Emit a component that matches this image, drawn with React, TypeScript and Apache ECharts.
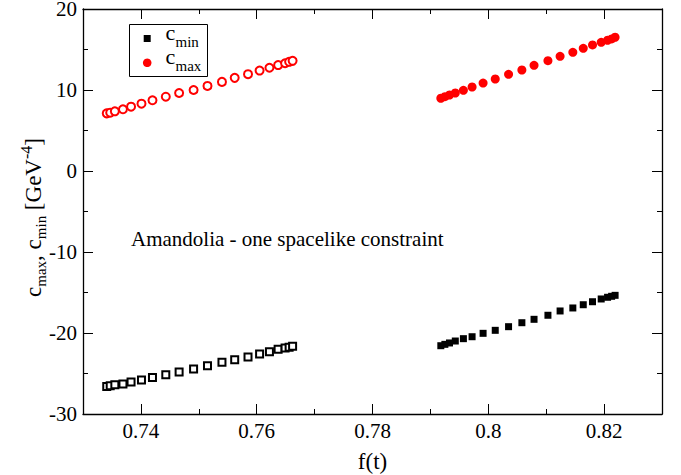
import React, { useEffect, useRef } from "react";
import * as echarts from "echarts";

// f(t) values of the two parameter scans
const fOpen = [0.7341, 0.7347, 0.7355, 0.7369, 0.7383, 0.7401, 0.742, 0.7443, 0.7466, 0.7491, 0.7515, 0.754, 0.7562, 0.7585, 0.7605, 0.7622, 0.7637, 0.7649, 0.7656, 0.7662];
const fFilled = [0.7918, 0.7925, 0.7933, 0.7943, 0.7957, 0.7972, 0.7991, 0.8012, 0.8035, 0.8058, 0.8079, 0.8103, 0.8124, 0.8146, 0.8164, 0.818, 0.8195, 0.8206, 0.8213, 0.8219];

// bounds in GeV^-4
const cMinOpen = [-26.6, -26.5, -26.4, -26.3, -26.05, -25.8, -25.5, -25.15, -24.8, -24.45, -24.05, -23.6, -23.3, -22.95, -22.6, -22.3, -22.0, -21.85, -21.75, -21.65];
const cMaxOpen = [7.12, 7.2, 7.37, 7.62, 7.94, 8.31, 8.73, 9.17, 9.63, 10.0, 10.5, 11.0, 11.5, 11.95, 12.4, 12.75, 13.08, 13.3, 13.48, 13.6];
const cMinFilled = [-21.57, -21.4, -21.23, -20.99, -20.7, -20.46, -20.04, -19.67, -19.22, -18.73, -18.31, -17.81, -17.28, -16.91, -16.51, -16.14, -15.8, -15.59, -15.47, -15.35];
const cMaxFilled = [8.98, 9.17, 9.38, 9.63, 9.96, 10.37, 10.86, 11.36, 11.94, 12.47, 13.05, 13.62, 14.16, 14.65, 15.15, 15.56, 15.89, 16.14, 16.3, 16.51];

// axis ticks
const xMajorTicks = [0.74, 0.76, 0.78, 0.8, 0.82];
const xMinorTicks = [0.75, 0.77, 0.79, 0.81];
const yTickLabels = [-30, -20, -10, 0, 10, 20];

const annotation = "Amandolia - one spacelike constraint";

const SERIF = "Liberation Serif";
const BLACK = "#000";
const RED = "#ff0000";

const zip = (xs: number[], ys: number[]) => xs.map((x, i) => [x, ys[i]]);

export default function App() {
  const ref = useRef<HTMLDivElement>(null);

  useEffect(() => {
    if (!ref.current) return;
    const chart = echarts.init(ref.current, null, { renderer: "svg" });

    const xBase = {
      type: "value",
      min: 0.73,
      max: 0.83,
      splitLine: { show: false },
    };
    const frameLine = { show: true, onZero: false, lineStyle: { color: BLACK, width: 1.3 } };
    const tickStyle = { color: BLACK, width: 1 };

    const xAxes = [
      {
        ...xBase,
        position: "bottom",
        axisLine: frameLine,
        axisTick: { inside: true, length: 10, customValues: xMajorTicks, lineStyle: tickStyle },
        axisLabel: {
          customValues: xMajorTicks,
          color: BLACK,
          fontFamily: SERIF,
          fontSize: 21,
          margin: 6,
        },
        name: "f(t)",
        nameLocation: "middle",
        nameGap: 36,
        nameMoveOverlap: false,
        nameTextStyle: { color: BLACK, fontFamily: SERIF, fontSize: 23 },
      },
      {
        ...xBase,
        position: "bottom",
        axisLine: { show: false, onZero: false },
        axisTick: { inside: true, length: 5, customValues: xMinorTicks, lineStyle: tickStyle },
        axisLabel: { show: false },
      },
      {
        ...xBase,
        position: "top",
        axisLine: frameLine,
        axisTick: { inside: true, length: 10, customValues: xMajorTicks, lineStyle: tickStyle },
        axisLabel: { show: false },
      },
      {
        ...xBase,
        position: "top",
        axisLine: { show: false, onZero: false },
        axisTick: { inside: true, length: 5, customValues: xMinorTicks, lineStyle: tickStyle },
        axisLabel: { show: false },
      },
    ];

    const yBase = {
      type: "value",
      min: yTickLabels[0],
      max: yTickLabels[yTickLabels.length - 1],
      interval: 10,
      splitLine: { show: false },
      axisLine: frameLine,
      axisTick: { inside: true, length: 10, lineStyle: tickStyle },
      minorTick: { show: true, splitNumber: 2, length: 5, lineStyle: tickStyle },
    };

    const yAxes = [
      {
        ...yBase,
        position: "left",
        axisLabel: { color: BLACK, fontFamily: SERIF, fontSize: 21, lineHeight: 17, margin: 6 },
        name: "{c|c}{s|max}{c|, c}{s|min}{c| [GeV}{p|-4}{c|]}",
        nameLocation: "middle",
        nameRotate: 90,
        nameGap: 35,
        nameMoveOverlap: false,
        nameTextStyle: {
          color: BLACK,
          fontFamily: SERIF,
          padding: [0, 12, 0, 0],
          rich: {
            c: { fontFamily: SERIF, fontSize: 23, lineHeight: 30, color: BLACK },
            s: { fontFamily: SERIF, fontSize: 15, lineHeight: 13, verticalAlign: "bottom", color: BLACK },
            p: { fontFamily: SERIF, fontSize: 16, lineHeight: 16, verticalAlign: "top", color: BLACK },
          },
        },
      },
      { ...yBase, position: "right", axisLabel: { show: false } },
    ];

    const scatter = (name: string, data: number[][], symbol: string, size: number, color: string) => ({
      name,
      type: "scatter",
      xAxisIndex: 0,
      yAxisIndex: 0,
      data,
      symbol,
      symbolSize: size,
      itemStyle: { color, borderColor: color, borderWidth: symbol.startsWith("empty") ? 1.3 : 0, opacity: 1 },
      emphasis: { disabled: true },
    });

    const txt = (text: string, size: number) => ({
      text,
      fontFamily: SERIF,
      fontSize: size,
      fill: BLACK,
      verticalAlign: "middle",
    });

    chart.setOption({
      animation: false,
      backgroundColor: "#fff",
      textStyle: { fontFamily: SERIF },
      grid: { left: 83, top: 9, right: 19, bottom: 61, containLabel: false, outerBoundsMode: "none" },
      xAxis: xAxes,
      yAxis: yAxes,
      series: [
        scatter("c_min (open)", zip(fOpen, cMinOpen), "emptyRect", 7, BLACK),
        scatter("c_max (open)", zip(fOpen, cMaxOpen), "emptyCircle", 8, RED),
        scatter("c_min", zip(fFilled, cMinFilled), "rect", 7, BLACK),
        scatter("c_max", zip(fFilled, cMaxFilled), "circle", 9, RED),
      ],
      graphic: [
        {
          type: "group",
          left: 129,
          top: 21,
          children: [
            { type: "rect", shape: { x: 0, y: 0, width: 78, height: 52 }, style: { fill: "#fff", stroke: BLACK, lineWidth: 1 } },
            { type: "rect", shape: { x: 14.2, y: 10.5, width: 7, height: 7 }, style: { fill: BLACK } },
            { type: "circle", shape: { cx: 17.7, cy: 38.3, r: 4.3 }, style: { fill: RED } },
            { type: "text", x: 36, y: 7.5, style: txt("c", 22) },
            { type: "text", x: 46, y: 17.5, style: txt("min", 15) },
            { type: "text", x: 36, y: 31.5, style: txt("c", 22) },
            { type: "text", x: 46, y: 41.5, style: txt("max", 15) },
          ],
        },
        {
          type: "text",
          left: 131,
          top: 228,
          style: { text: annotation, fontFamily: SERIF, fontSize: 21, fill: BLACK },
        },
      ],
    });

    return () => chart.dispose();
  }, []);

  return (
    <div
      ref={ref}
      style={{ position: "absolute", left: 0, top: 0, width: 681, height: 475, background: "#fff" }}
    />
  );
}
